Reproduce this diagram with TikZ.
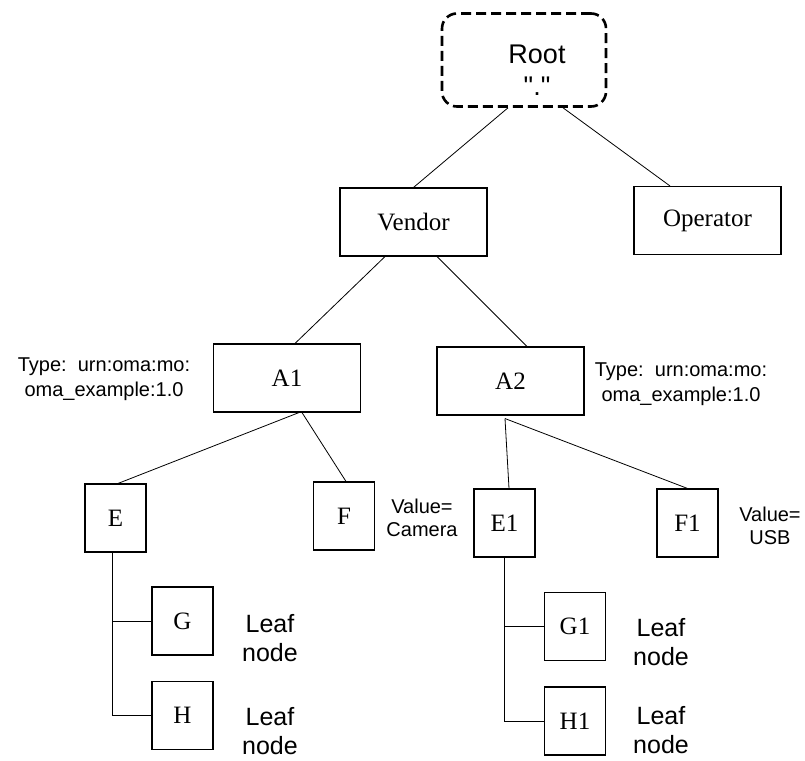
\documentclass[tikz,border=0pt]{standalone}
\usepackage{fontspec}
\setmainfont{Liberation Serif}
\newfontfamily\arialfont{Liberation Sans}

\begin{document}
\begin{tikzpicture}[x=1pt,y=-1pt,line width=0.8pt,
  box node/.style={rectangle,draw,line width=1.1pt,inner sep=0pt,font=\fontsize{25}{28}\selectfont},
  wide node/.style={box node,minimum width=147pt,minimum height=68pt},
  small node/.style={box node,minimum width=61pt,minimum height=68pt},
  root node/.style={rectangle,draw,rounded corners=15pt,line width=2.6pt,dash pattern=on 10pt off 5pt,
    minimum width=164pt,minimum height=93pt},
  root text/.style={align=center,font=\arialfont\fontsize{27}{32}\selectfont},
  type note/.style={align=center,font=\arialfont\fontsize{20}{24.5}\selectfont},
  value note/.style={align=center,font=\arialfont\fontsize{20}{23}\selectfont},
  leaf note/.style={align=center,font=\arialfont\fontsize{25}{29}\selectfont}]
  \useasboundingbox (0,0) rectangle (805,760);
  \node[root node, label={[root text,xshift=13pt,yshift=-10pt]center:Root\\"."}] (root) at (524,60) {};
  \node[wide node] (vendor) at (413.5,222) {Vendor};
  \node[wide node] (operator) at (707.5,220.5) {Operator};
  \node[wide node] (A1) at (287,378) {A1};
  \node[wide node] (A2) at (510.5,381) {A2};
  \node[small node] (E) at (115.5,518) {E};
  \node[small node] (F) at (344,516) {F};
  \node[small node] (E1) at (504.5,523) {E1};
  \node[small node] (F1) at (687.5,523) {F1};
  \node[small node] (G) at (182.5,621) {G};
  \node[small node] (H) at (182.5,715.5) {H};
  \node[small node] (G1) at (575,626.5) {G1};
  \node[small node] (H1) at (575,721) {H1};

  \node[type note] (typeA1) at (104,379) {Type:\ \ urn:oma:mo:\\oma\_example:1.0};
  \node[type note] (typeA2) at (681,384) {Type:\ \ urn:oma:mo:\\oma\_example:1.0};
  \node[value note] (valF) at (422,518) {Value=\\Camera};
  \node[value note] (valF1) at (770,526) {Value=\\USB};
  \node[leaf note] (leafG) at (270,638) {Leaf\\node};
  \node[leaf note] (leafH) at (270,731) {Leaf\\node};
  \node[leaf note] (leafG1) at (661,642) {Leaf\\node};
  \node[leaf note] (leafH1) at (661,730) {Leaf\\node};

  \path ([xshift=-16pt]root.south) edge (vendor.north)
        ([xshift=39pt]root.south) edge ([xshift=-37.5pt]operator.north)
        ([xshift=-28.5pt]vendor.south) edge ([xshift=8pt]A1.north)
        ([xshift=23.5pt]vendor.south) edge ([xshift=16.5pt]A2.north)
        ([xshift=12pt]A1.south) edge ([xshift=2.5pt]E.north)
        ([xshift=15pt]A1.south) edge ([xshift=2pt]F.north)
        ([xshift=-5.5pt,yshift=-3pt]A2.south) edge ([xshift=4.5pt]E1.north)
        ([xshift=-5.5pt,yshift=-3pt]A2.south) edge (F1.north);
  \draw ([xshift=-3.5pt]E.south) |- (G.west);
  \draw ([xshift=-3.5pt]E.south) |- (H.west);
  \draw (E1.south) |- (G1.west);
  \draw (E1.south) |- (H1.west);
\end{tikzpicture}
\end{document}
